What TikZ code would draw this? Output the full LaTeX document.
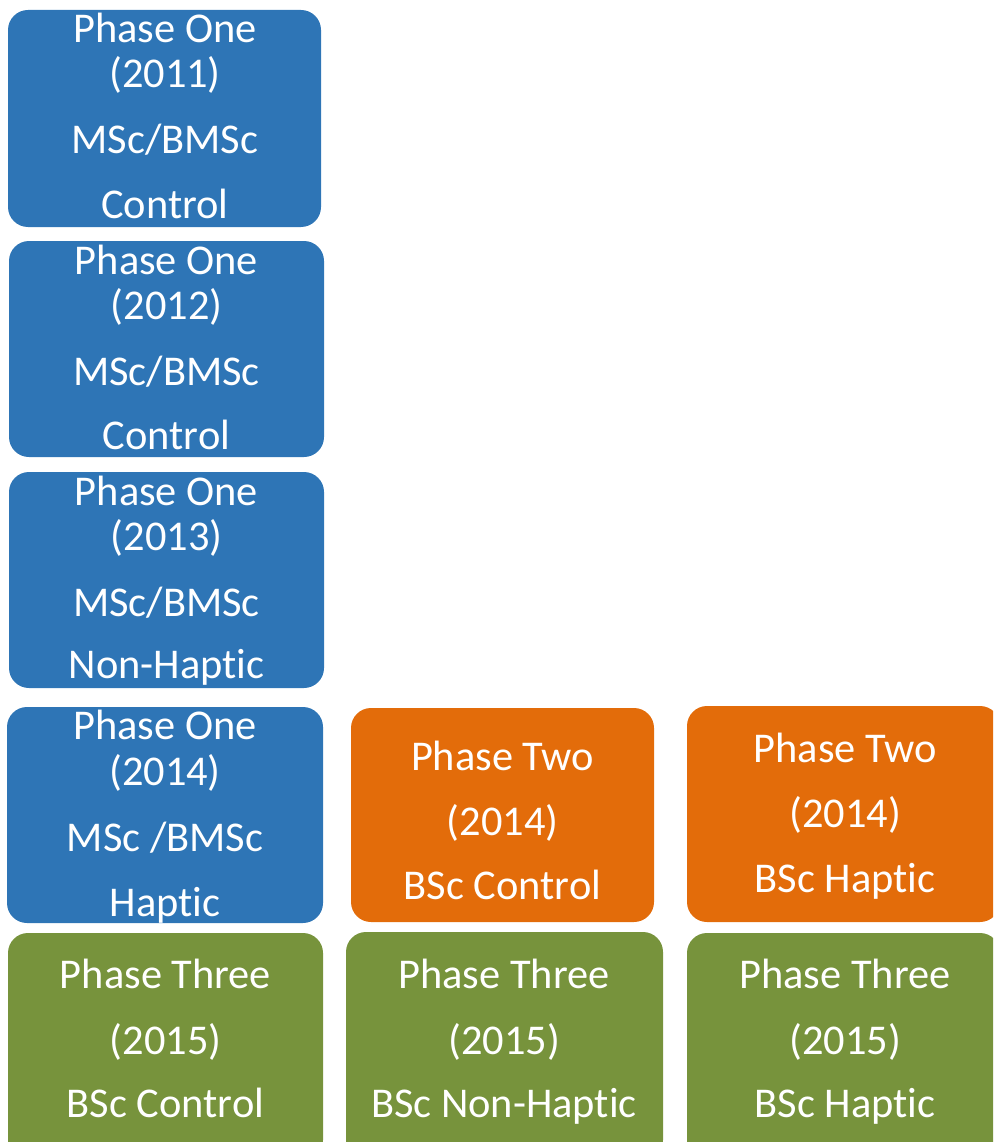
\documentclass[tikz,border=0pt]{standalone}
\usepackage{fontspec}
\setmainfont[Ligatures={NoCommon,NoContextual},RawFeature={-liga;-clig;-calt}]{Carlito}
\newcommand\ti{t\kern0pt i}
\definecolor{pblue}{HTML}{2E75B6}
\definecolor{porange}{HTML}{E36C0A}
\definecolor{pgreen}{HTML}{77933C}
\begin{document}
\begin{tikzpicture}[x=1pt,y=-1pt,
  card/.style={rectangle, rounded corners=20pt, inner sep=0pt, draw=none},
  bluecard/.style={card, fill=pblue},
  orangecard/.style={card, fill=porange},
  greencard/.style={card, fill=pgreen},
  txt/.style={anchor=base, inner sep=0pt, text=white, font=\fontsize{42.4}{50}\selectfont}]
\useasboundingbox (0,0) rectangle (993,1142);
\clip (0,0) rectangle (993,1142);
% boxes
\node[bluecard, minimum width=313pt, minimum height=217pt] (b1) at (164.5,118.5) {};
\node[bluecard, minimum width=315pt, minimum height=216pt] (b2) at (166.5,349) {};
\node[bluecard, minimum width=315pt, minimum height=216pt] (b3) at (166.5,580) {};
\node[bluecard, minimum width=316pt, minimum height=216pt] (b4) at (165,815) {};
\node[orangecard, minimum width=303pt, minimum height=214pt] (o1) at (502.5,815) {};
\node[orangecard, minimum width=313pt, minimum height=216pt] (o2) at (843.5,814) {};
\node[greencard, minimum width=315pt, minimum height=227pt] (g1) at (165.5,1046.5) {};
\node[greencard, minimum width=317pt, minimum height=228pt] (g2) at (504.5,1046) {};
\node[greencard, minimum width=313pt, minimum height=227pt] (g3) at (843.5,1046.5) {};
% texts
\node[txt] (b1a) at (165,43) {Phase One};
\node[txt] (b1b) at (165,88) {(2011)};
\node[txt] (b1c) at (165,154) {MSc/BMSc};
\node[txt] (b1d) at (165,218) {Control};
\node[txt] (b2a) at (166.5,274) {Phase One};
\node[txt] (b2b) at (166.5,319) {(2012)};
\node[txt] (b2c) at (166.5,385) {MSc/BMSc};
\node[txt] (b2d) at (166.5,449) {Control};
\node[txt] (b3a) at (166.5,505) {Phase One};
\node[txt] (b3b) at (166.5,550) {(2013)};
\node[txt] (b3c) at (166.5,616) {MSc/BMSc};
\node[txt] (b3d) at (166.5,678) {Non-Hap\ti c};
\node[txt] (b4a) at (165,739) {Phase One};
\node[txt] (b4b) at (165,785) {(2014)};
\node[txt] (b4c) at (165,851) {MSc /BMSc};
\node[txt] (b4d) at (165,916) {Hap\ti c};
\node[txt] (o1a) at (502.5,770) {Phase Two};
\node[txt] (o1b) at (502.5,835) {(2014)};
\node[txt] (o1c) at (502.5,899) {BSc Control};
\node[txt] (o2a) at (845,762) {Phase Two};
\node[txt] (o2b) at (845,827) {(2014)};
\node[txt] (o2c) at (845,892) {BSc Hap\ti c};
\node[txt] (g1a) at (165.5,988) {Phase Three};
\node[txt] (g1b) at (165.5,1054) {(2015)};
\node[txt] (g1c) at (165.5,1117) {BSc Control};
\node[txt] (g2a) at (504,988) {Phase Three};
\node[txt] (g2b) at (504,1054) {(2015)};
\node[txt] (g2c) at (504,1117) {BSc Non-Hap\ti c};
\node[txt] (g3a) at (845,988) {Phase Three};
\node[txt] (g3b) at (845,1054) {(2015)};
\node[txt] (g3c) at (845,1117) {BSc Hap\ti c};
\end{tikzpicture}
\end{document}
